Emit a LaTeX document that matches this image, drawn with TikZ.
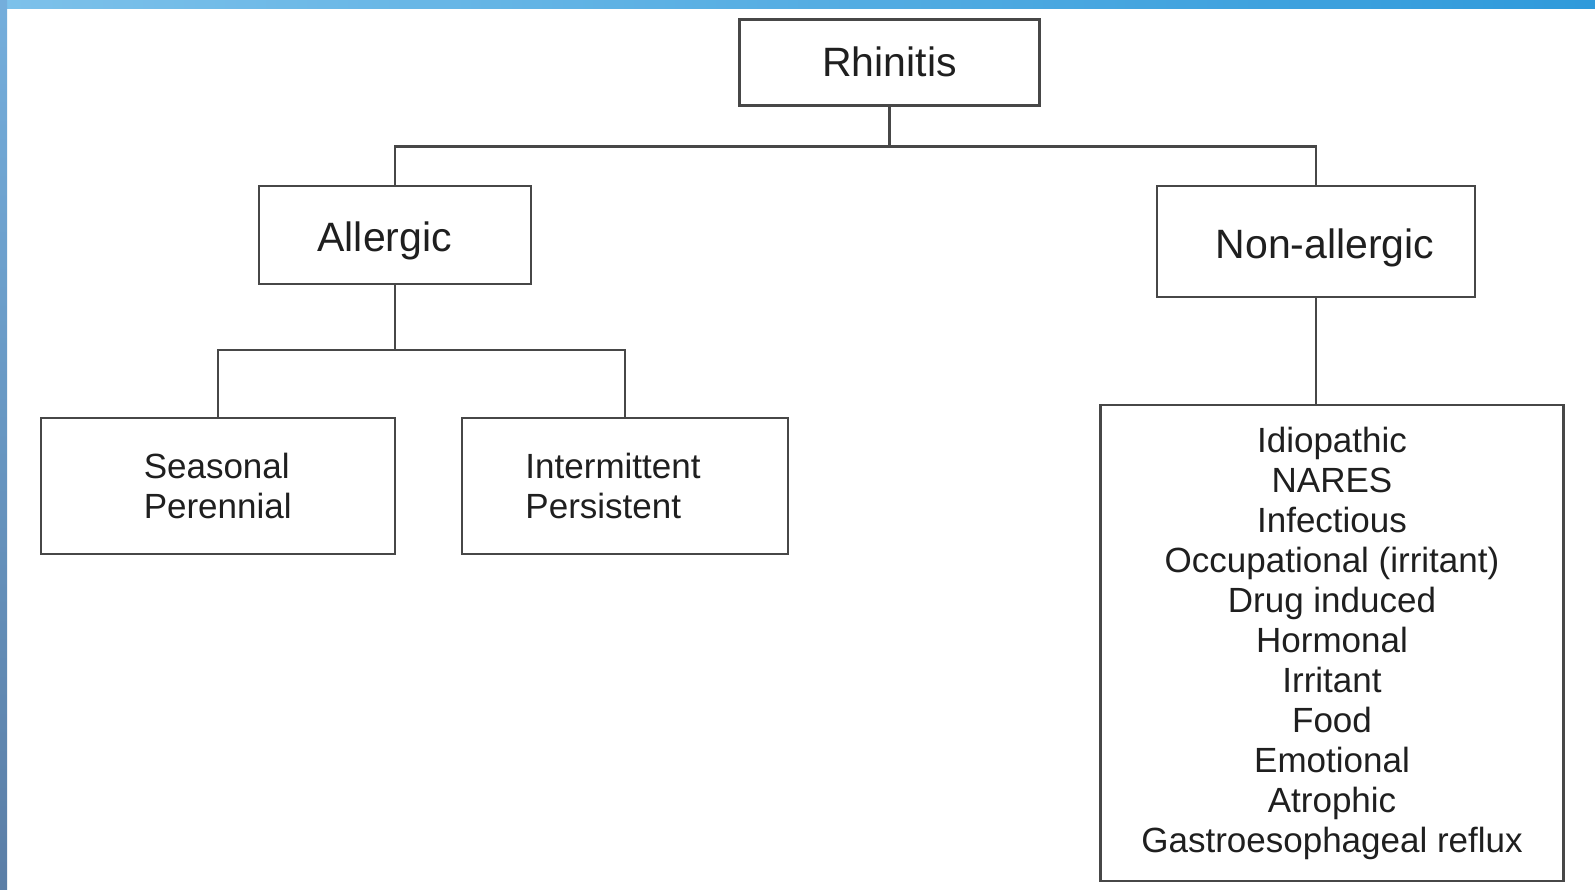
\documentclass[tikz,border=0pt]{standalone}
\usepackage{fontspec}
\setmainfont{Liberation Sans}
\usetikzlibrary{positioning}
\definecolor{edgegray}{HTML}{474747}
\definecolor{textgray}{HTML}{1F1F1F}
\definecolor{barlight}{HTML}{7DC1EA}
\definecolor{bardark}{HTML}{2F9ADB}
\definecolor{sidetop}{HTML}{74AEDC}
\definecolor{sidebot}{HTML}{5B7EA6}

\begin{document}
\begin{tikzpicture}[x=0.5pt,y=-0.5pt,
  box/.style={draw=edgegray,line width=1.2pt,inner sep=0pt,text=textgray,font=\fontsize{17.5}{20}\selectfont,align=center},
  head/.style={draw=edgegray,line width=1.2pt,inner sep=0pt,text=textgray,font=\fontsize{20.5}{24}\selectfont,text height=21pt,text depth=4.5pt},
  link/.style={draw=edgegray,line width=1.2pt}]
\useasboundingbox[fill=white] (0,0) rectangle (1595,889);
% frame of the slide
\shade[left color=barlight,right color=bardark] (0,0) rectangle (1595,8);
\shade[top color=sidetop,bottom color=sidebot] (0,0) rectangle (7,889);

\node[head,text height=18pt,minimum width=150pt,minimum height=43pt] (rhin) at (889.5,62.5) {Rhinitis};
\node[head,minimum width=136pt,minimum height=49pt] (allerg) at (394.7,235) {\hspace*{-10pt}Allergic};
\node[head,minimum width=159pt,minimum height=55.5pt] (nonall) at (1316,241.5) {\hspace*{9pt}Non-allergic};
\node[box,align=left,minimum width=177pt,minimum height=68pt] (seas) at (217.7,486.2) {Seasonal\\Perennial};
\node[box,align=left,minimum width=163pt,minimum height=68pt] (inter) at (625,486.2) {\hspace*{-12pt}Intermittent\\\hspace*{-12pt}Persistent};
\node[box,minimum width=231.5pt,minimum height=238pt] (other) at (1332,643) {Idiopathic\\NARES\\Infectious\\Occupational (irritant)\\Drug induced\\Hormonal\\Irritant\\Food\\Emotional\\Atrophic\\Gastroesophageal reflux};

\coordinate (top) at (rhin.south |- 0,146.5);
\coordinate (mid) at (allerg.south |- 0,350);
\path[link] (rhin.south) -- (top) (allerg.north) |- (top) -| (nonall.north);
\path[link] (allerg.south) -- (mid) (seas.north) |- (mid) -| (inter.north);
\path[link] (nonall.south) -- (nonall.south |- other.north);
\end{tikzpicture}
\end{document}
